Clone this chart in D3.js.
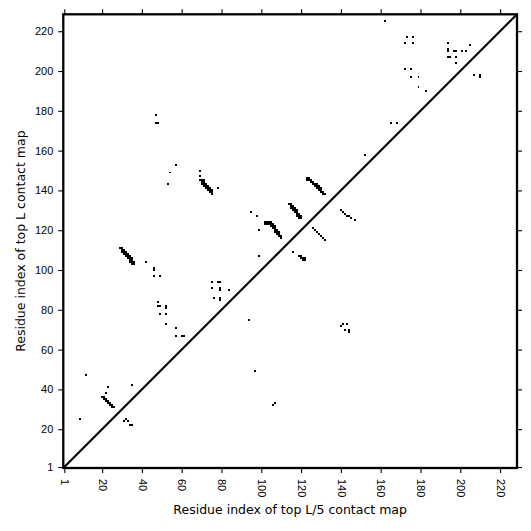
<!DOCTYPE html>
<html>
<head>
<meta charset="utf-8">
<script src="https://cdn.jsdelivr.net/npm/d3@7"></script>
<style>
  html, body { margin: 0; padding: 0; background: #fff; }
  svg { display: block; font-family: 'DejaVu Sans', sans-serif; }
</style>
</head>
<body>
<div id="contact-map"></div>
<script>
// sequence length and tick labels
const seqLength = 228;
const tickValues = [1, 20, 40, 60, 80, 100, 120, 140, 160, 180, 200, 220];

// contacts above the diagonal: [x residue, y residue] (top L map)
const upperContacts = [
  [9, 25], [12, 47], [22, 38], [23, 41], [35, 42],
  [20, 36], [21, 36], [21, 35], [22, 35], [22, 34], [23, 34], [23, 33], [24, 33], [24, 32], [25, 32], [25, 31], [26, 31],
  [29, 111], [30, 111], [30, 110], [31, 110], [30, 109], [31, 109], [32, 109], [31, 108], [32, 108], [33, 108],
  [32, 107], [33, 107], [34, 107], [33, 106], [34, 106], [35, 106], [34, 105], [35, 105], [34, 104], [35, 104], [36, 104],
  [35, 103], [36, 103],
  [42, 104], [46, 101], [46, 100], [46, 97], [49, 97], [48, 84], [48, 82], [49, 82], [52, 82], [52, 81],
  [49, 78], [52, 78], [52, 73], [57, 71], [57, 67], [60, 67], [61, 67],
  [75, 94], [78, 94], [79, 94], [75, 91], [79, 91], [79, 90], [76, 86], [79, 86], [79, 85], [84, 90],
  [47, 178], [47, 174], [48, 174], [57, 153], [54, 149], [53, 143], [69, 150], [69, 147],
  [69, 145], [70, 145], [71, 145], [70, 144], [71, 144], [70, 143], [71, 143], [72, 143], [71, 142], [72, 142], [73, 142],
  [72, 141], [73, 141], [74, 141], [73, 140], [74, 140], [75, 140], [74, 139], [75, 139], [75, 138],
  [78, 141], [95, 129], [98, 127], [99, 120], [99, 107],
  [102, 124], [103, 124], [104, 124], [105, 124], [102, 123], [103, 123], [104, 123], [105, 123], [106, 123],
  [105, 122], [106, 122], [107, 122], [106, 121], [107, 121], [107, 120], [108, 120], [107, 119], [108, 119], [109, 119],
  [108, 118], [109, 118], [109, 117], [110, 117], [110, 116],
  [114, 133], [115, 133], [115, 132], [116, 132], [115, 131], [116, 131], [117, 131], [116, 130], [117, 130], [118, 130],
  [117, 129], [118, 129], [118, 128], [119, 128], [118, 127], [119, 127], [120, 127], [119, 126], [120, 126],
  [123, 146], [124, 146], [123, 145], [124, 145], [125, 145], [125, 144], [126, 144], [126, 143], [127, 143], [128, 143],
  [127, 142], [128, 142], [129, 142], [128, 141], [129, 141], [130, 141], [129, 140], [130, 140], [130, 139], [131, 139],
  [131, 138], [132, 138],
  [152, 158], [162, 225], [173, 217], [176, 217], [172, 214], [176, 214], [172, 201], [175, 201], [175, 197], [179, 197],
  [179, 192], [183, 190], [165, 174], [168, 174],
  [194, 214], [194, 211], [194, 210], [197, 210], [198, 210], [201, 210], [203, 210], [205, 213],
  [194, 207], [195, 207], [198, 207], [198, 204],
];

// contacts below the diagonal (top L/5 map)
const lowerContacts = [
  [31, 24], [32, 25], [33, 24], [34, 22], [35, 22],
  [94, 75], [97, 49], [106, 32], [107, 33],
  [116, 109], [119, 107], [120, 107], [120, 106], [121, 106], [122, 106], [121, 105], [122, 105],
  [126, 121], [127, 120], [128, 119], [129, 118], [130, 117], [131, 116], [132, 115],
  [140, 130], [141, 129], [142, 128], [143, 127], [144, 127], [145, 126], [147, 125],
  [140, 72], [141, 73], [143, 73], [142, 70], [144, 70], [144, 69],
  [207, 198], [210, 198], [210, 197],
];

const xTitle = 'Residue index of top L/5 contact map';
const yTitle = 'Residue index of top L contact map';

function drawContactMap(selector) {
  const width = 531;
  const height = 531;
  const margin = { top: 14.3, right: 14, bottom: 63, left: 63.3 };
  const innerWidth = width - margin.left - margin.right;
  const innerHeight = height - margin.top - margin.bottom;

  const svg = d3.select(selector)
    .append('svg')
    .attr('width', width)
    .attr('height', height);

  const g = svg.append('g').attr('transform', `translate(${margin.left},${margin.top})`);

  const x = d3.scaleLinear().domain([0.5, seqLength + 0.5]).range([0, innerWidth]);
  const y = d3.scaleLinear().domain([0.5, seqLength + 0.5]).range([innerHeight, 0]);
  const cell = x(1.5) - x(0.5);

  const allContacts = upperContacts.concat(lowerContacts);

  g.selectAll('rect.contact')
    .data(allContacts)
    .enter()
    .append('rect')
    .attr('class', 'contact')
    .attr('x', (d) => x(d[0] - 0.5))
    .attr('y', (d) => y(d[1] + 0.5))
    .attr('width', cell)
    .attr('height', cell)
    .attr('fill', '#000')
    .attr('shape-rendering', 'crispEdges');

  // self-contact diagonal
  g.append('line')
    .attr('x1', x(0.5))
    .attr('y1', y(0.5))
    .attr('x2', x(seqLength + 0.5))
    .attr('y2', y(seqLength + 0.5))
    .attr('stroke', '#000')
    .attr('stroke-width', 2.2);

  const styleAxis = (sel) => {
    sel.select('.domain').remove();
    sel.selectAll('.tick line').attr('stroke', '#000').attr('stroke-width', 1.1);
    sel.selectAll('text').style('font-size', '11px').attr('fill', '#000');
  };

  const xAxis = g.append('g')
    .attr('transform', `translate(0,${innerHeight})`)
    .call(d3.axisBottom(x).tickValues(tickValues).tickSize(5).tickFormat(d3.format('d')))
    .call(styleAxis);
  xAxis.selectAll('text')
    .attr('x', 0)
    .attr('y', 0)
    .attr('dy', '0.35em')
    .attr('text-anchor', 'start')
    .attr('transform', 'translate(0,11) rotate(90)');

  g.append('g')
    .call(d3.axisLeft(y).tickValues(tickValues).tickSize(5).tickPadding(5).tickFormat(d3.format('d')))
    .call(styleAxis);

  g.append('g')
    .call(d3.axisTop(x).tickValues(tickValues).tickSize(5).tickFormat(''))
    .call(styleAxis);

  g.append('g')
    .attr('transform', `translate(${innerWidth},0)`)
    .call(d3.axisRight(y).tickValues(tickValues).tickSize(5).tickFormat(''))
    .call(styleAxis);

  g.append('rect')
    .attr('x', 0)
    .attr('y', 0)
    .attr('width', innerWidth)
    .attr('height', innerHeight)
    .attr('fill', 'none')
    .attr('stroke', '#000')
    .attr('stroke-width', 2.3);

  svg.append('text')
    .attr('x', margin.left + innerWidth / 2)
    .attr('y', 514)
    .attr('text-anchor', 'middle')
    .attr('fill', '#000')
    .style('font-size', '12.5px')
    .text(xTitle);

  svg.append('text')
    .attr('transform', `translate(25,${margin.top + innerHeight / 2}) rotate(-90)`)
    .attr('text-anchor', 'middle')
    .attr('fill', '#000')
    .style('font-size', '12.5px')
    .text(yTitle);
}

drawContactMap('#contact-map');
</script>
</body>
</html>
